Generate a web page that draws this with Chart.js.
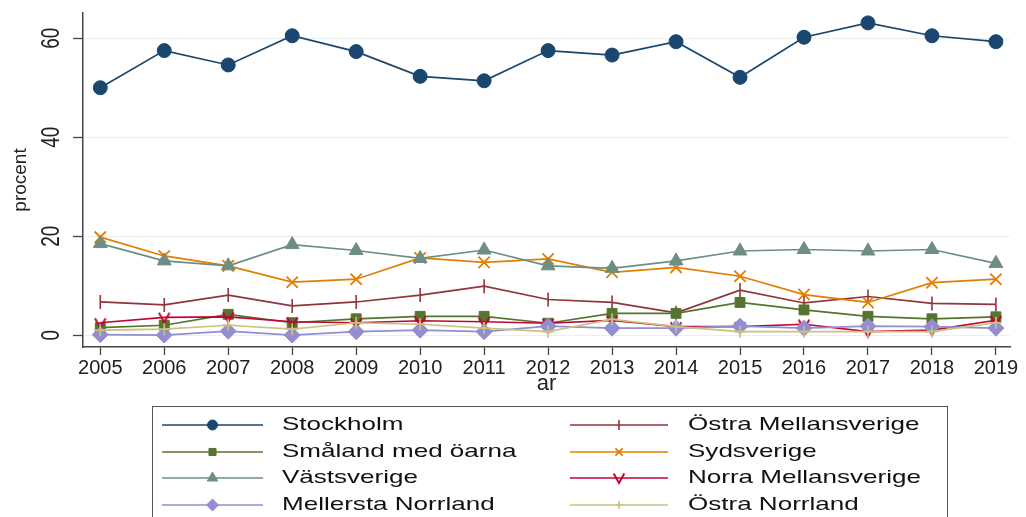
<!DOCTYPE html>
<html>
<head>
<meta charset="utf-8">
<script src="https://cdn.jsdelivr.net/npm/chart.js@4.4.1/dist/chart.umd.min.js"></script>
<style>
  html, body { margin: 0; padding: 0; background: #fff; }
  #wrap { width: 1026px; height: 517px; }
</style>
</head>
<body>
<div id="wrap"><canvas id="regionChart" width="1026" height="517"></canvas></div>
<script>
/* ====== DATA (procent per år) ====== */
const years = [2005, 2006, 2007, 2008, 2009, 2010, 2011, 2012, 2013, 2014, 2015, 2016, 2017, 2018, 2019];
const yTicks = [0, 20, 40, 60];

const stockholm          = [50.0, 57.5, 54.6, 60.5, 57.3, 52.3, 51.4, 57.5, 56.6, 59.3, 52.1, 60.2, 63.1, 60.5, 59.3];
const ostraMellansverige = [6.7, 6.1, 8.1, 5.9, 6.7, 8.1, 9.9, 7.2, 6.6, 4.5, 9.1, 6.5, 7.8, 6.4, 6.2];
const smaland            = [1.5, 2.0, 4.2, 2.5, 3.3, 3.8, 3.8, 2.4, 4.4, 4.4, 6.6, 5.1, 3.8, 3.3, 3.7];
const sydsverige         = [19.8, 16.0, 14.0, 10.7, 11.3, 15.6, 14.7, 15.4, 12.7, 13.7, 11.9, 8.2, 6.6, 10.6, 11.3];
const vastsverige        = [18.5, 15.0, 14.0, 18.3, 17.1, 15.5, 17.2, 14.0, 13.5, 15.0, 17.0, 17.3, 17.0, 17.3, 14.5];
const norraMellansverige = [2.5, 3.6, 3.7, 2.7, 2.5, 2.9, 2.7, 2.4, 3.0, 1.7, 1.7, 2.2, 0.7, 1.0, 3.0];
const mellerstaNorrland  = [0.1, 0.0, 0.8, 0.0, 0.7, 1.0, 0.7, 1.8, 1.4, 1.4, 1.8, 1.4, 1.8, 1.7, 1.4];
const ostraNorrland      = [1.0, 1.2, 2.0, 1.2, 2.5, 2.2, 1.4, 0.7, 3.2, 1.7, 0.7, 0.7, 0.7, 0.7, 2.5];

/* ====== HELPERS ====== */
const FONT = "'Liberation Sans', Arial, Helvetica, sans-serif";

// small "v" marker (Chart.js has no such point style)
function vMarker(color, size) {
  const c = document.createElement("canvas");
  c.width = size; c.height = size;
  const g = c.getContext("2d");
  g.strokeStyle = color;
  g.lineWidth = 2;
  g.beginPath();
  g.moveTo(size * 0.12, size * 0.18);
  g.lineTo(size / 2, size * 0.85);
  g.lineTo(size * 0.88, size * 0.18);
  g.stroke();
  return c;
}

/* ====== SERIES (Stata s2color-ish) ====== */
const series = [
  { name: "Stockholm",           values: stockholm,          color: "#1a476f", style: "circle",   r: 7,  lr: 5, bw: 1 },
  { name: "Östra Mellansverige", values: ostraMellansverige, color: "#90353b", style: "line",     r: 7,  lr: 5, bw: 1.6, rot: 90 },
  { name: "Småland med öarna",   values: smaland,            color: "#55752f", style: "rect",     r: 7,  lr: 5, bw: 1 },
  { name: "Sydsverige",          values: sydsverige,         color: "#e37e00", style: "crossRot", r: 8,  lr: 5, bw: 1.8 },
  { name: "Västsverige",         values: vastsverige,        color: "#6e8e84", style: "triangle", r: 8,  lr: 6, bw: 1 },
  { name: "Norra Mellansverige", values: norraMellansverige, color: "#c10534", style: vMarker("#c10534", 14), r: 7, lr: 5, bw: 1 },
  { name: "Mellersta Norrland",  values: mellerstaNorrland,  color: "#938dd2", style: "rectRot",  r: 8,  lr: 6, bw: 1 },
  { name: "Östra Norrland",      values: ostraNorrland,      color: "#cac27e", style: "cross",    r: 6,  lr: 4, bw: 1.6 }
];

const datasets = series.map((s, i) => ({
  label: s.name,
  data: years.map((yr, k) => ({ x: yr, y: s.values[k] })),
  borderColor: s.color,
  backgroundColor: s.color,
  borderWidth: 1.7,
  pointStyle: s.style,
  pointRadius: s.r,
  pointRotation: s.rot || 0,
  pointBorderWidth: s.bw,
  pointBackgroundColor: s.color,
  pointBorderColor: s.color,
  tension: 0,
  order: series.length - i
}));

/* ====== EXTRA DRAWING (rotated y labels, titles, legend box) ====== */
const stataBits = {
  id: "stataBits",
  afterDraw(chart) {
    const ctx = chart.ctx;
    const ys = chart.scales.y;
    const area = chart.chartArea;

    ctx.save();
    ctx.fillStyle = "#222";
    ctx.textAlign = "center";
    ctx.textBaseline = "middle";

    // y tick labels, rotated like Stata
    ctx.font = "19px " + FONT;
    yTicks.forEach(v => {
      const py = ys.getPixelForValue(v);
      ctx.save();
      ctx.translate(52, py);
      ctx.scale(1.4, 1);
      ctx.rotate(-Math.PI / 2);
      ctx.fillText(String(v), 0, 0);
      ctx.restore();
    });

    // y title
    ctx.save();
    ctx.font = "19px " + FONT;
    ctx.translate(21, (area.top + area.bottom) / 2);
    ctx.rotate(-Math.PI / 2);
    ctx.fillText("procent", 0, 0);
    ctx.restore();

    // x title
    ctx.font = "22px " + FONT;
    ctx.fillText("ar", (area.left + area.right) / 2, 384);

    // legend
    const box = { left: 152, top: 406, right: 947, bottom: 540 };
    ctx.strokeStyle = "#555";
    ctx.lineWidth = 1;
    ctx.strokeRect(box.left + 0.5, box.top + 0.5, box.right - box.left, box.bottom - box.top);

    const rowsY = [425, 452, 478, 505];
    const cols = [
      { x1: 162, x2: 263, text: 282 },
      { x1: 570, x2: 668, text: 688 }
    ];
    series.forEach((s, i) => {
      const col = cols[i % 2];
      const y = rowsY[Math.floor(i / 2)];
      ctx.strokeStyle = s.color;
      ctx.fillStyle = s.color;
      ctx.lineWidth = 1.6;
      ctx.beginPath();
      ctx.moveTo(col.x1, y);
      ctx.lineTo(col.x2, y);
      ctx.stroke();
      ctx.lineWidth = s.bw;
      Chart.helpers.drawPoint(ctx, {
        pointStyle: s.style, rotation: s.rot || 0, radius: s.lr, borderWidth: s.bw
      }, (col.x1 + col.x2) / 2, y);

      ctx.save();
      ctx.fillStyle = "#111";
      ctx.font = "19px " + FONT;
      ctx.textAlign = "left";
      ctx.translate(col.text, y);
      ctx.scale(1.37, 1);
      ctx.fillText(s.name, 0, 0);
      ctx.restore();
    });
    ctx.restore();
  }
};

/* ====== CHART ====== */
new Chart(document.getElementById("regionChart").getContext("2d"), {
  type: "line",
  data: { datasets },
  options: {
    responsive: false,
    animation: false,
    layout: { padding: { left: 0, top: 13, right: 16, bottom: 0 } },
    plugins: {
      legend: { display: false },
      tooltip: { enabled: false }
    },
    scales: {
      x: {
        type: "linear",
        min: 2004.73,
        max: 2019.22,
        afterBuildTicks: scale => { scale.ticks = years.map(v => ({ value: v })); },
        afterFit: scale => { scale.height = 170; },
        ticks: {
          color: "#222",
          font: { family: FONT, size: 20 },
          padding: 1,
          maxRotation: 0,
          autoSkip: false,
          callback: v => String(v)
        },
        grid: { drawOnChartArea: false, drawTicks: true, tickLength: 8, tickColor: "#444", tickWidth: 1.3 },
        border: { display: true, color: "#444", width: 1.5 }
      },
      y: {
        min: -2.4,
        max: 65.1,
        afterBuildTicks: scale => { scale.ticks = yTicks.map(v => ({ value: v })); },
        afterFit: scale => { scale.width = 83; },
        ticks: { display: false },
        grid: { color: "#eaeff0", lineWidth: 1, drawTicks: true, tickLength: 10, tickColor: "#444", tickWidth: 1.3 },
        border: { display: true, color: "#444", width: 1.5 }
      }
    }
  },
  plugins: [stataBits]
});
</script>
</body>
</html>
